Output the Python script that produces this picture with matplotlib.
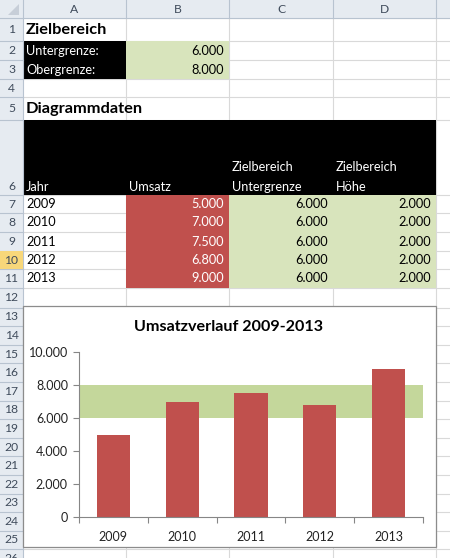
import matplotlib
matplotlib.use("Agg")
import matplotlib.pyplot as plt
from matplotlib.patches import Rectangle, Polygon

plt.rcParams['font.family'] = ['Lato', 'DejaVu Sans']

# ---- data ----
years = ["2009", "2010", "2011", "2012", "2013"]
umsatz = [5000, 7000, 7500, 6800, 9000]
untergrenze = [6000, 6000, 6000, 6000, 6000]
hoehe = [2000, 2000, 2000, 2000, 2000]
ziel_unter = 6000
ziel_ober = 8000
col_letters = ["A", "B", "C", "D"]
y_ticks = [0, 2000, 4000, 6000, 8000, 10000]
chart_title = "Umsatzverlauf 2009-2013"

def fmt(v):
    return f"{v:,.0f}".replace(",", ".")

RED = "#c0504d"
GREEN_T = "#d8e4bc"
GREEN_C = "#c4d79b"
GRID = "#d9d9d9"
HDR_BG = "#e6ebf1"
HDR_LINE = "#b8c3d0"
HDR_TXT = "#3f4b5b"

W, H = 450, 558
fig = plt.figure(figsize=(W / 100, H / 100), dpi=100)
bg = fig.add_axes([0, 0, 1, 1])
bg.set_xlim(0, W)
bg.set_ylim(H, 0)
bg.axis('off')

# column and row geometry (pixels)
cols = [23, 126, 229, 333, 436, 450]
row_b = [18, 41, 60, 79, 97, 120, 195, 213, 232, 251, 269, 288, 307.7]
rh = 18.58
for k in range(1, 15):
    row_b.append(307.7 + rh * k)

# gridlines
for y in row_b:
    bg.plot([cols[0], W], [y, y], color=GRID, lw=0.8, zorder=1)
for x in cols[1:-1]:
    bg.plot([x, x], [18, H], color=GRID, lw=0.8, zorder=1)

def cell(c0, c1, r0, r1, color):
    bg.add_patch(Rectangle((cols[c0], row_b[r0]), cols[c1] - cols[c0],
                           row_b[r1] - row_b[r0], facecolor=color,
                           edgecolor='none', zorder=2))

# fills
cell(0, 1, 1, 3, "black")          # A2:A3
cell(1, 2, 1, 3, GREEN_T)          # B2:B3
cell(0, 4, 5, 6, "black")          # A6:D6
cell(1, 2, 6, 11, RED)             # B7:B11
cell(2, 4, 6, 11, GREEN_T)         # C7:D11

# headers
bg.add_patch(Rectangle((0, 0), W, 18, facecolor=HDR_BG, edgecolor='none', zorder=3))
bg.add_patch(Rectangle((0, 0), 23, H, facecolor=HDR_BG, edgecolor='none', zorder=3))
bg.plot([0, W], [18, 18], color=HDR_LINE, lw=0.8, zorder=4)
bg.plot([23, 23], [0, H], color=HDR_LINE, lw=0.8, zorder=4)
for x in cols[1:-1]:
    bg.plot([x, x], [0, 18], color=HDR_LINE, lw=0.8, zorder=4)
for y in row_b[1:]:
    bg.plot([0, 23], [y, y], color=HDR_LINE, lw=0.8, zorder=4)
bg.add_patch(Polygon([[19, 4], [19, 15], [8, 15]], closed=True,
                     facecolor="#c7ced8", edgecolor='none', zorder=4))
# highlighted row 10 header
bg.add_patch(Rectangle((0, row_b[9]), 23, row_b[10] - row_b[9],
                       facecolor="#f8d77a", edgecolor='none', zorder=4))
for i, L in enumerate(col_letters):
    bg.text((cols[i] + cols[i + 1]) / 2, 9.5, L, ha='center', va='center',
            fontsize=8.7, color=HDR_TXT, zorder=5)
for r in range(26):
    y0, y1 = row_b[r], row_b[r + 1]
    yc = (y0 + y1) / 2
    if r == 5:
        yc = y1 - 8.5
    bg.text(11.5, yc, str(r + 1), ha='center', va='center', fontsize=8.7,
            color=HDR_TXT, zorder=5, clip_on=True)

FS = 9.2
def tx(x, y, s, ha='left', color='black', **kw):
    bg.text(x, y, s, ha=ha, va='center', fontsize=kw.pop('fs', FS),
            color=color, zorder=6, **kw)

tx(26, 30.5, "Zielbereich", fs=11.8, fontweight='bold')
tx(26, 51, "Untergrenze:", color='white')
tx(26, 70, "Obergrenze:", color='white')
tx(224, 51, fmt(ziel_unter), ha='right')
tx(224, 70, fmt(ziel_ober), ha='right')
tx(26, 109.5, "Diagrammdaten", fs=11.8, fontweight='bold')

tx(26, 187, "Jahr", color='white')
tx(129, 187, "Umsatz", color='white')
tx(232, 167, "Zielbereich", color='white')
tx(232, 187, "Untergrenze", color='white')
tx(336, 167, "Zielbereich", color='white')
tx(336, 187, "Höhe", color='white')

for i in range(len(years)):
    yc = (row_b[6 + i] + row_b[7 + i]) / 2
    tx(26, yc, years[i])
    tx(224, yc, fmt(umsatz[i]), ha='right', color='white')
    tx(328, yc, fmt(untergrenze[i]), ha='right')
    tx(431, yc, fmt(hoehe[i]), ha='right')

# chart frame
bg.add_patch(Rectangle((23, 306), 413, 241, facecolor='white',
                       edgecolor='#8c8c8c', lw=0.9, zorder=7))
bg.text(229, 327, chart_title, ha='center', va='center', fontsize=11.6,
        fontweight='bold', color='black', zorder=8)

# chart axes
ax = fig.add_axes([79 / W, (H - 517) / H, 344 / W, 165 / H])
ax.set_zorder(10)
ax.patch.set_alpha(0)
x = list(range(len(years)))
ax.bar(x, hoehe, bottom=untergrenze, width=1.0, color=GREEN_C, zorder=1)
ax.bar(x, umsatz, width=0.48, color=RED, zorder=2)
ax.set_xlim(-0.5, len(years) - 0.5)
ax.set_ylim(0, 10000)
ax.set_yticks(y_ticks)
ax.set_yticklabels([fmt(v) for v in y_ticks])
ax.set_xticks(x)
ax.set_xticklabels(years)
ax.set_xticks([i - 0.5 for i in range(len(years) + 1)], minor=True)
ax.tick_params(axis='x', which='major', length=0, pad=10, labelsize=9, colors='#222222')
ax.tick_params(axis='x', which='minor', length=4, color='#868686', width=0.8)
ax.tick_params(axis='y', length=4, color='#868686', width=0.8, pad=4,
               labelsize=9, labelcolor='#222222')
for s in ['top', 'right']:
    ax.spines[s].set_visible(False)
for s in ['left', 'bottom']:
    ax.spines[s].set_color('#868686')
    ax.spines[s].set_linewidth(0.8)

fig.savefig("out.png", dpi=100)
